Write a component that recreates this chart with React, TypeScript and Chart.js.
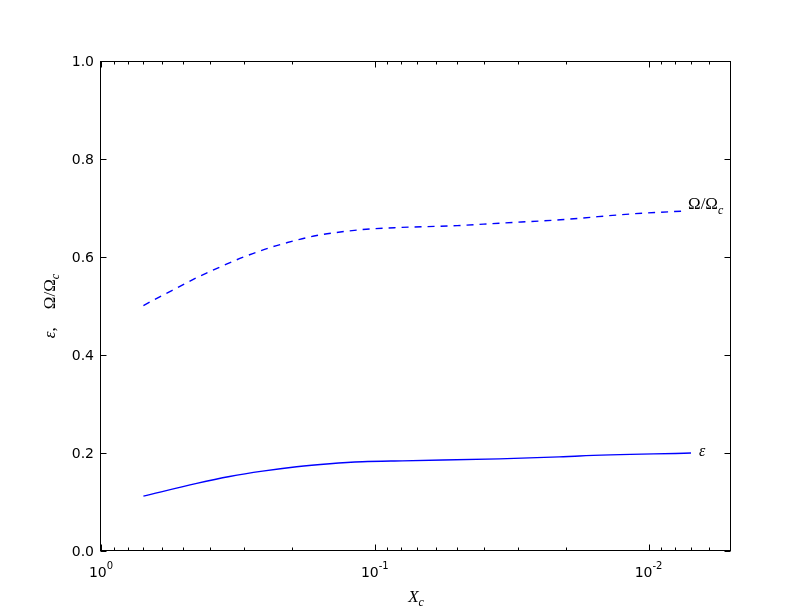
import { useEffect, useRef } from 'react';
import { Chart, registerables } from 'chart.js';

Chart.register(...registerables);

// Omega / Omega_c (dashed curve)
const omegaX = [0.70, 0.594, 0.515, 0.447, 0.401, 0.359, 0.311, 0.279, 0.242, 0.210, 0.188, 0.163, 0.138, 0.111, 0.0834, 0.05, 0.0351, 0.021, 0.0115, 0.0073];
const omegaY = [0.501, 0.522, 0.540, 0.558, 0.570, 0.582, 0.597, 0.607, 0.619, 0.629, 0.636, 0.644, 0.650, 0.656, 0.660, 0.664, 0.669, 0.676, 0.688, 0.694];

// epsilon (solid curve)
const epsX = [0.70, 0.447, 0.339, 0.257, 0.193, 0.146, 0.111, 0.0793, 0.0351, 0.0212, 0.0179, 0.007];
const epsY = [0.112, 0.138, 0.152, 0.163, 0.172, 0.178, 0.182, 0.184, 0.188, 0.192, 0.194, 0.200];

// ticks
const yTickValues = [0, 0.2, 0.4, 0.6, 0.8, 1.0];
const yTickLabels = ['0.0', '0.2', '0.4', '0.6', '0.8', '1.0'];
const xTickValues = [1, 0.1, 0.01];
const xTickExponents = ['0', '-1', '-2'];
const minorMantissas = [2, 3, 4, 5, 6, 7, 8, 9];
const minorDecades = [0.1, 0.01, 0.001];

const X_MIN = 0.005;
const X_MAX = 1;

type Seg = { t?: string; font?: string; dy?: number; gap?: number };

function drawRich(ctx: CanvasRenderingContext2D, segs: Seg[], x: number, y: number, align: 'left' | 'center') {
  let total = 0;
  for (const s of segs) {
    if (s.gap) { total += s.gap; continue; }
    ctx.font = s.font!;
    total += ctx.measureText(s.t!).width;
  }
  let cx = align === 'center' ? x - total / 2 : x;
  ctx.textAlign = 'left';
  ctx.textBaseline = 'alphabetic';
  for (const s of segs) {
    if (s.gap) { cx += s.gap; continue; }
    ctx.font = s.font!;
    ctx.fillText(s.t!, cx, y + (s.dy || 0));
    cx += ctx.measureText(s.t!).width;
  }
}

const SERIF = '"Liberation Serif", "DejaVu Serif", serif';
const SANS = '"DejaVu Sans", sans-serif';

const decor = {
  id: 'decor',
  beforeDraw(chart: any) {
    const { ctx, width, height } = chart;
    ctx.save();
    ctx.fillStyle = '#ffffff';
    ctx.fillRect(0, 0, width, height);
    ctx.restore();
  },
  afterDraw(chart: any) {
    const { ctx, chartArea: a } = chart;
    const xs = chart.scales.x;
    const ys = chart.scales.y;
    ctx.save();
    ctx.strokeStyle = '#000000';
    ctx.lineWidth = 1;
    const L = Math.round(a.left) - 0.5;
    const R = Math.round(a.right) - 0.5;
    const T = Math.round(a.top) + 0.5;
    const B = Math.round(a.bottom) - 0.5;
    ctx.strokeRect(L, T, R - L, B - T);

    ctx.beginPath();
    for (const v of yTickValues) {
      const py = Math.round(ys.getPixelForValue(v)) + 0.5;
      ctx.moveTo(L, py); ctx.lineTo(L + 6, py);
      ctx.moveTo(R, py); ctx.lineTo(R - 6, py);
    }
    for (const v of xTickValues) {
      const px = Math.round(xs.getPixelForValue(v)) + 0.5;
      ctx.moveTo(px, B); ctx.lineTo(px, B - 6);
      ctx.moveTo(px, T); ctx.lineTo(px, T + 6);
    }
    for (const d of minorDecades) {
      for (const m of minorMantissas) {
        const v = m * d;
        if (v <= X_MIN * 1.0001 || v >= X_MAX) continue;
        const px = Math.round(xs.getPixelForValue(v)) + 0.5;
        ctx.moveTo(px, B); ctx.lineTo(px, B - 3);
        ctx.moveTo(px, T); ctx.lineTo(px, T + 3);
      }
    }
    ctx.stroke();

    ctx.fillStyle = '#000000';
    ctx.font = '14px ' + SANS;
    ctx.textAlign = 'right';
    ctx.textBaseline = 'alphabetic';
    yTickValues.forEach((v, i) => {
      const py = ys.getPixelForValue(v);
      ctx.fillText(yTickLabels[i], a.left - 7, py + 5);
    });
    xTickValues.forEach((v, i) => {
      const px = xs.getPixelForValue(v);
      drawRich(ctx, [
        { t: '10', font: '14px ' + SANS },
        { t: xTickExponents[i], font: '10px ' + SANS, dy: -8 },
      ], px, a.bottom + 26, 'center');
    });

    drawRich(ctx, [
      { t: 'X', font: 'italic 17px ' + SERIF },
      { t: 'c', font: 'italic 12px ' + SERIF, dy: 4 },
    ], (a.left + a.right) / 2, 602, 'center');

    ctx.save();
    ctx.translate(55, (a.top + a.bottom) / 2);
    ctx.rotate(-Math.PI / 2);
    drawRich(ctx, [
      { t: 'ε', font: 'italic 17px ' + SERIF },
      { t: ',', font: '17px ' + SERIF },
      { gap: 18 },
      { t: 'Ω/Ω', font: '17px ' + SERIF },
      { t: 'c', font: 'italic 12px ' + SERIF, dy: 4 },
    ], 0, 0, 'center');
    ctx.restore();

    drawRich(ctx, [
      { t: 'Ω/Ω', font: '17px ' + SERIF },
      { t: 'c', font: 'italic 12px ' + SERIF, dy: 5 },
    ], 688, 209, 'left');
    drawRich(ctx, [
      { t: 'ε', font: 'italic 16px ' + SERIF },
    ], 699, 456, 'left');

    ctx.restore();
  },
};

export default function App() {
  const ref = useRef<HTMLCanvasElement>(null);
  useEffect(() => {
    const chart = new Chart(ref.current as HTMLCanvasElement, {
      type: 'line',
      data: {
        datasets: [
          {
            label: 'Ω/Ωc',
            data: omegaX.map((x, i) => ({ x, y: omegaY[i] })),
            borderColor: '#0000ff',
            borderWidth: 1.4,
            borderDash: [7, 6],
            pointRadius: 0,
            fill: false,
            cubicInterpolationMode: 'monotone',
          },
          {
            label: 'ε',
            data: epsX.map((x, i) => ({ x, y: epsY[i] })),
            borderColor: '#0000ff',
            borderWidth: 1.4,
            pointRadius: 0,
            fill: false,
            cubicInterpolationMode: 'monotone',
          },
        ],
      },
      options: {
        responsive: false,
        animation: false,
        layout: { padding: { left: 0, right: 81, top: 61, bottom: 0 } },
        plugins: { legend: { display: false }, tooltip: { enabled: false } },
        scales: {
          x: {
            type: 'logarithmic',
            reverse: true,
            min: X_MIN,
            max: X_MAX,
            grid: { display: false, drawTicks: false },
            border: { display: false },
            ticks: { display: false },
            afterFit(s: any) { s.height = 61; },
          },
          y: {
            type: 'linear',
            min: 0,
            max: 1,
            grid: { display: false, drawTicks: false },
            border: { display: false },
            ticks: { display: false },
            afterFit(s: any) { s.width = 101; },
          },
        },
      } as any,
      plugins: [decor],
    });
    return () => chart.destroy();
  }, []);
  return (
    <canvas
      ref={ref}
      width={812}
      height={612}
      style={{ position: 'fixed', left: 0, top: 0, width: 812, height: 612 }}
    />
  );
}
